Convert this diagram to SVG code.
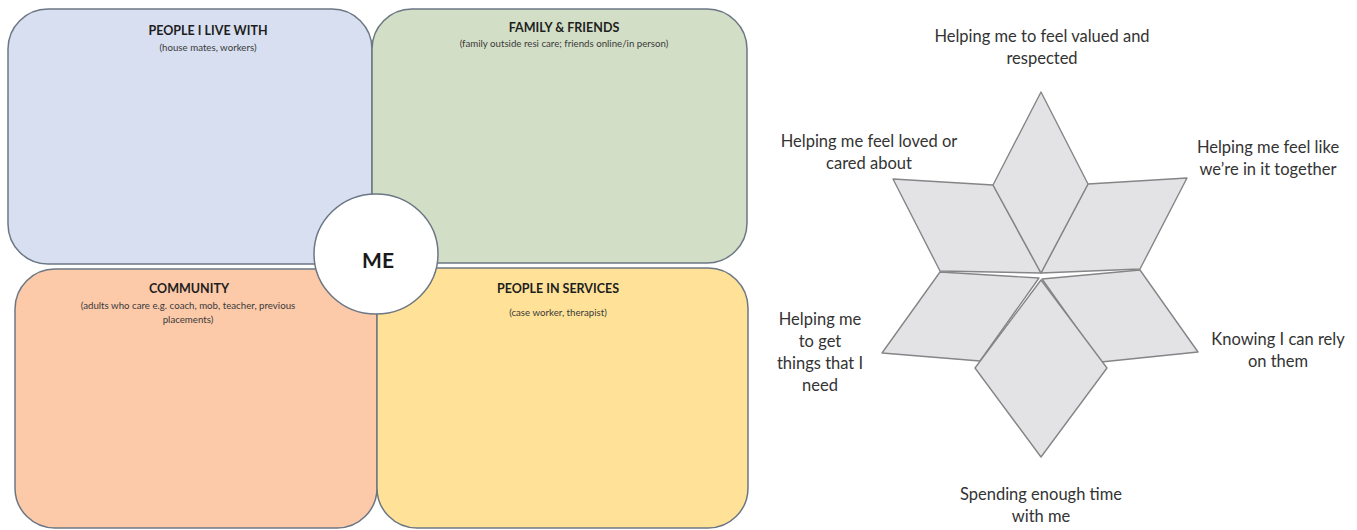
<svg xmlns="http://www.w3.org/2000/svg" width="1357" height="530" viewBox="0 0 1357 530">
  <style>
    .box { stroke: #6c7784; stroke-width: 1.5; }
    .title { font-family: Lato, "Open Sans", "Liberation Sans", sans-serif; font-weight: 700; font-size: 12.5px; fill: #1e1e1e; text-anchor: middle; }
    .sub { font-family: Lato, "Open Sans", "Liberation Sans", sans-serif; font-size: 9.7px; fill: #3a3a3a; text-anchor: middle; }
    .me { font-family: Lato, "Open Sans", "Liberation Sans", sans-serif; font-weight: 700; font-size: 21px; fill: #1a1a1a; text-anchor: middle; }
    .petal { fill: #e3e2e5; stroke: #858587; stroke-width: 1.4; stroke-linejoin: round; }
    .lbl { font-family: Lato, "Open Sans", "Liberation Sans", sans-serif; font-size: 16.5px; fill: #333333; text-anchor: middle; }
  </style>
  <rect width="1357" height="530" fill="#ffffff"/>

  <!-- Four circles-of-support quadrants -->
  <g id="people-i-live-with">
    <rect class="box" x="8" y="9" width="364" height="255" rx="40" ry="40" fill="#d7dff0"/>
    <text class="title" x="208" y="35">PEOPLE I LIVE WITH</text>
    <text class="sub" x="208" y="51">(house mates, workers)</text>
  </g>
  <g id="family-friends">
    <rect class="box" x="372" y="9" width="375" height="254" rx="40" ry="40" fill="#d3dec6"/>
    <text class="title" x="564" y="32">FAMILY &amp; FRIENDS</text>
    <text class="sub" x="564" y="47">(family outside resi care; friends online/in person)</text>
  </g>
  <g id="community">
    <rect class="box" x="15" y="269" width="362" height="259" rx="40" ry="40" fill="#fcc9a9"/>
    <text class="title" x="189" y="293">COMMUNITY</text>
    <text class="sub" x="188" y="309">(adults who care e.g. coach, mob, teacher, previous</text>
    <text class="sub" x="188" y="323">placements)</text>
  </g>
  <g id="people-in-services">
    <rect class="box" x="377" y="268" width="371" height="260" rx="40" ry="40" fill="#ffe298"/>
    <text class="title" x="558" y="293">PEOPLE IN SERVICES</text>
    <text class="sub" x="558" y="316">(case worker, therapist)</text>
  </g>
  <g id="me">
    <ellipse class="box" cx="376" cy="254" rx="62" ry="60" fill="#ffffff"/>
    <text class="me" x="378" y="268">ME</text>
  </g>

  <!-- Six-pointed star of relationship qualities -->
  <g id="star">
    <polygon class="petal" points="893,179 993,185 1041,273 940,271"/>
    <polygon class="petal" points="1187,178 1088,184 1041,273 1140,269"/>
    <polygon class="petal" points="1041,92 1088,184 1041,273 993,185"/>
    <polygon class="petal" points="882,353 940,272 1039,278 980,361"/>
    <polygon class="petal" points="1198,352 1140,270 1042,279 1101,362"/>
    <polygon class="petal" points="1041,280 1107,368 1041,457 975,368"/>
  </g>

  <g id="labels">
    <text class="lbl" x="1042" y="42">Helping me to feel valued and</text>
    <text class="lbl" x="1042" y="64">respected</text>
    <text class="lbl" x="869" y="147">Helping me feel loved or</text>
    <text class="lbl" x="869" y="169">cared about</text>
    <text class="lbl" x="1268" y="153">Helping me feel like</text>
    <text class="lbl" x="1268" y="175">we’re in it together</text>
    <text class="lbl" x="820" y="325">Helping me</text>
    <text class="lbl" x="820" y="347">to get</text>
    <text class="lbl" x="820" y="369">things that I</text>
    <text class="lbl" x="820" y="391">need</text>
    <text class="lbl" x="1278" y="345">Knowing I can rely</text>
    <text class="lbl" x="1278" y="367">on them</text>
    <text class="lbl" x="1041" y="500">Spending enough time</text>
    <text class="lbl" x="1041" y="522">with me</text>
  </g>
</svg>
